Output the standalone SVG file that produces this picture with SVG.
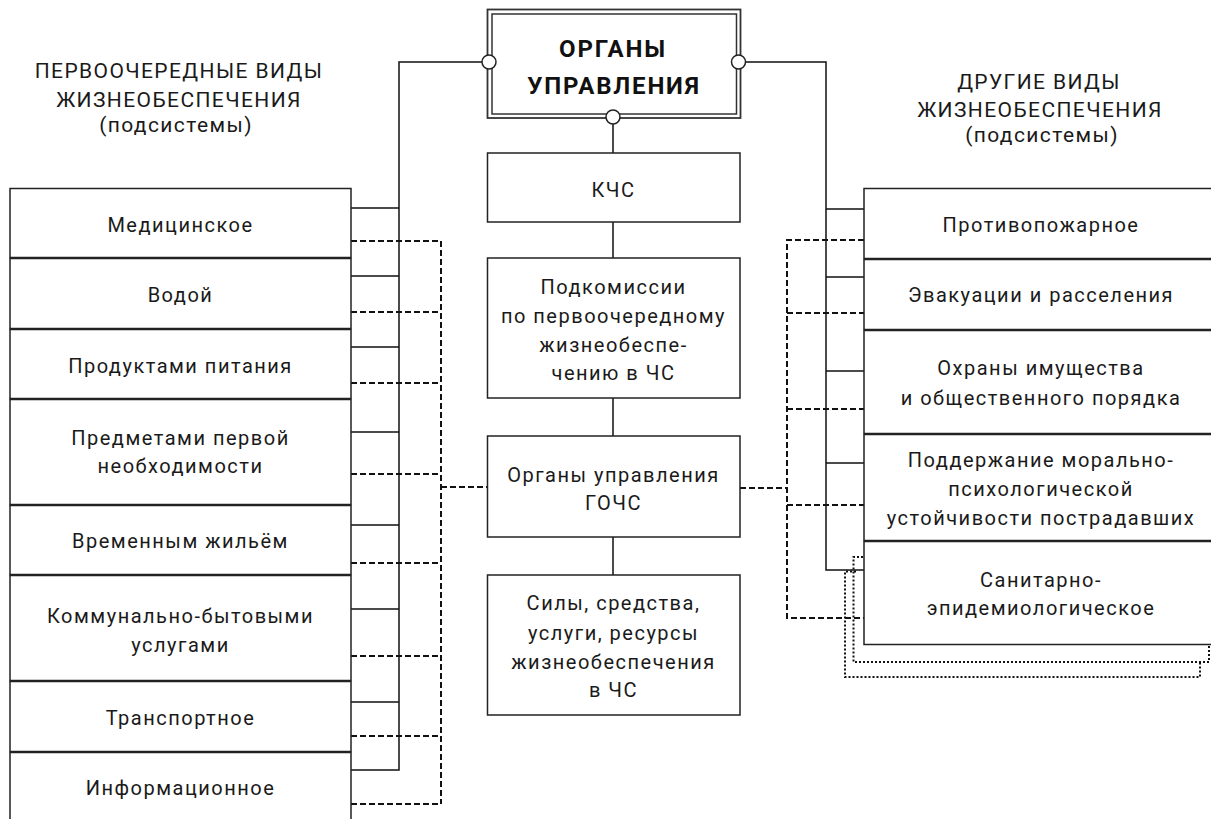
<svg xmlns="http://www.w3.org/2000/svg" width="1211" height="819" viewBox="0 0 1211 819">
<style>
.t{font-family:Roboto,"Liberation Sans",sans-serif;font-size:20px;letter-spacing:1.5px;fill:#1a1a1a;text-anchor:middle}
.h{font-family:Roboto,"Liberation Sans",sans-serif;font-size:21px;letter-spacing:1.4px;fill:#1a1a1a;text-anchor:middle}
.b{font-family:Roboto,"Liberation Sans",sans-serif;font-size:24px;font-weight:bold;letter-spacing:1.8px;fill:#111;text-anchor:middle}
.box{fill:#fff;stroke:#222;stroke-width:1.5}
.s{fill:none;stroke:#111;stroke-width:1.5}
.d{fill:none;stroke:#111;stroke-width:2;stroke-dasharray:6 3}
.o{fill:none;stroke:#111;stroke-width:2;stroke-dasharray:2 2}
.c{fill:#fff;stroke:#222;stroke-width:1.5}
</style>
<rect width="1211" height="819" fill="#fff"/>

<g id="title-left">
<text class="h" x="179" y="78">ПЕРВООЧЕРЕДНЫЕ ВИДЫ</text>
<text class="h" x="179" y="107">ЖИЗНЕОБЕСПЕЧЕНИЯ</text>
<text class="h" x="176" y="132">(подсистемы)</text>
</g>
<g id="title-right">
<text class="h" x="1039" y="89">ДРУГИЕ ВИДЫ</text>
<text class="h" x="1040" y="117">ЖИЗНЕОБЕСПЕЧЕНИЯ</text>
<text class="h" x="1042" y="142">(подсистемы)</text>
</g>

<g id="connectors">
<path class="s" d="M482,62 H399 V770 H351"/>
<path class="s" d="M745,62 H826 V570 H864"/>
<path class="s" d="M613,124 V153 M613,222 V258 M613,398 V436 M613,537 V575"/>
<path class="s" d="M351,208 H399 M351,276 H399 M351,347 H399 M351,432 H399 M351,525 H399 M351,609 H399 M351,702 H399"/>
<path class="d" d="M351,241 H441 M351,312 H441 M351,383 H441 M351,474 H441 M351,563 H441 M351,656 H441 M351,736 H441 M351,804 H441 M441,241 V804 M441,487 H487"/>
<path class="s" d="M826,209 H864 M826,277 H864 M826,371 H864 M826,463 H864"/>
<path class="d" d="M864,240 H787 V618 H864 M787,313 H864 M787,409 H864 M787,505 H864 M740,488 H787"/>
<path class="o" d="M863,557 H853.5 V662 H1209 V645"/>
<path class="o" d="M856,571.5 H845 V677 H1200 V662"/>
</g>

<g id="n-organy">
<rect x="487.5" y="9.5" width="253" height="108.5" fill="#fff" stroke="#333" stroke-width="1.8"/>
<rect x="492" y="14" width="244.5" height="100" fill="none" stroke="#333" stroke-width="1.5"/>
<text class="b" x="613" y="57">ОРГАНЫ</text>
<text class="b" x="614" y="94">УПРАВЛЕНИЯ</text>
<circle class="c" cx="489" cy="62" r="7"/>
<circle class="c" cx="738.5" cy="62" r="7"/>
<circle class="c" cx="613" cy="117" r="7"/>
</g>

<g id="n-kchs">
<rect class="box" x="487.5" y="153" width="252.5" height="69"/>
<text class="t" x="613.5" y="197">КЧС</text>
</g>
<g id="n-podkom">
<rect class="box" x="487.5" y="258" width="252.5" height="140"/>
<text class="t" x="613.5" y="294">Подкомиссии</text>
<text class="t" x="613.5" y="323">по первоочередному</text>
<text class="t" x="613.5" y="352">жизнеобеспе-</text>
<text class="t" x="613.5" y="380">чению в ЧС</text>
</g>
<g id="n-gochs">
<rect class="box" x="487.5" y="436" width="252.5" height="101"/>
<text class="t" x="613.5" y="482">Органы управления</text>
<text class="t" x="613.5" y="510">ГОЧС</text>
</g>
<g id="n-sily">
<rect class="box" x="487.5" y="575" width="252.5" height="140"/>
<text class="t" x="613.5" y="610">Силы, средства,</text>
<text class="t" x="613.5" y="640">услуги, ресурсы</text>
<text class="t" x="613.5" y="669">жизнеобеспечения</text>
<text class="t" x="613.5" y="697">в ЧС</text>
</g>

<g id="n-med"><rect class="box" x="10" y="188.5" width="341" height="69"/><text class="t" x="180.5" y="232">Медицинское</text></g>
<g id="n-voda"><rect class="box" x="10" y="258.5" width="341" height="70"/><text class="t" x="180.5" y="302">Водой</text></g>
<g id="n-prod"><rect class="box" x="10" y="329.5" width="341" height="69"/><text class="t" x="180.5" y="373">Продуктами питания</text></g>
<g id="n-predm"><rect class="box" x="10" y="399.5" width="341" height="105"/><text class="t" x="180.5" y="445">Предметами первой</text><text class="t" x="180.5" y="473">необходимости</text></g>
<g id="n-vrem"><rect class="box" x="10" y="505.5" width="341" height="69"/><text class="t" x="180.5" y="548">Временным жильём</text></g>
<g id="n-komm"><rect class="box" x="10" y="575.5" width="341" height="105"/><text class="t" x="180.5" y="623">Коммунально-бытовыми</text><text class="t" x="180.5" y="652">услугами</text></g>
<g id="n-transp"><rect class="box" x="10" y="681.5" width="341" height="70"/><text class="t" x="180.5" y="725">Транспортное</text></g>
<g id="n-inform"><rect class="box" x="10" y="752.5" width="341" height="90"/><text class="t" x="180.5" y="795">Информационное</text></g>

<g id="n-protiv"><rect class="box" x="864" y="188.5" width="360" height="70"/><text class="t" x="1041" y="232">Противопожарное</text></g>
<g id="n-evak"><rect class="box" x="864" y="259.5" width="360" height="70"/><text class="t" x="1041" y="302">Эвакуации и расселения</text></g>
<g id="n-ohrana"><rect class="box" x="864" y="330.5" width="360" height="103"/><text class="t" x="1041" y="375">Охраны имущества</text><text class="t" x="1041" y="405">и общественного порядка</text></g>
<g id="n-podd"><rect class="box" x="864" y="434.5" width="360" height="106"/><text class="t" x="1041" y="467">Поддержание морально-</text><text class="t" x="1041" y="496">психологической</text><text class="t" x="1041" y="525">устойчивости пострадавших</text></g>
<g id="n-sanit"><rect class="box" x="864" y="541.5" width="360" height="103"/><text class="t" x="1041" y="587">Санитарно-</text><text class="t" x="1041" y="615">эпидемиологическое</text></g>
</svg>
